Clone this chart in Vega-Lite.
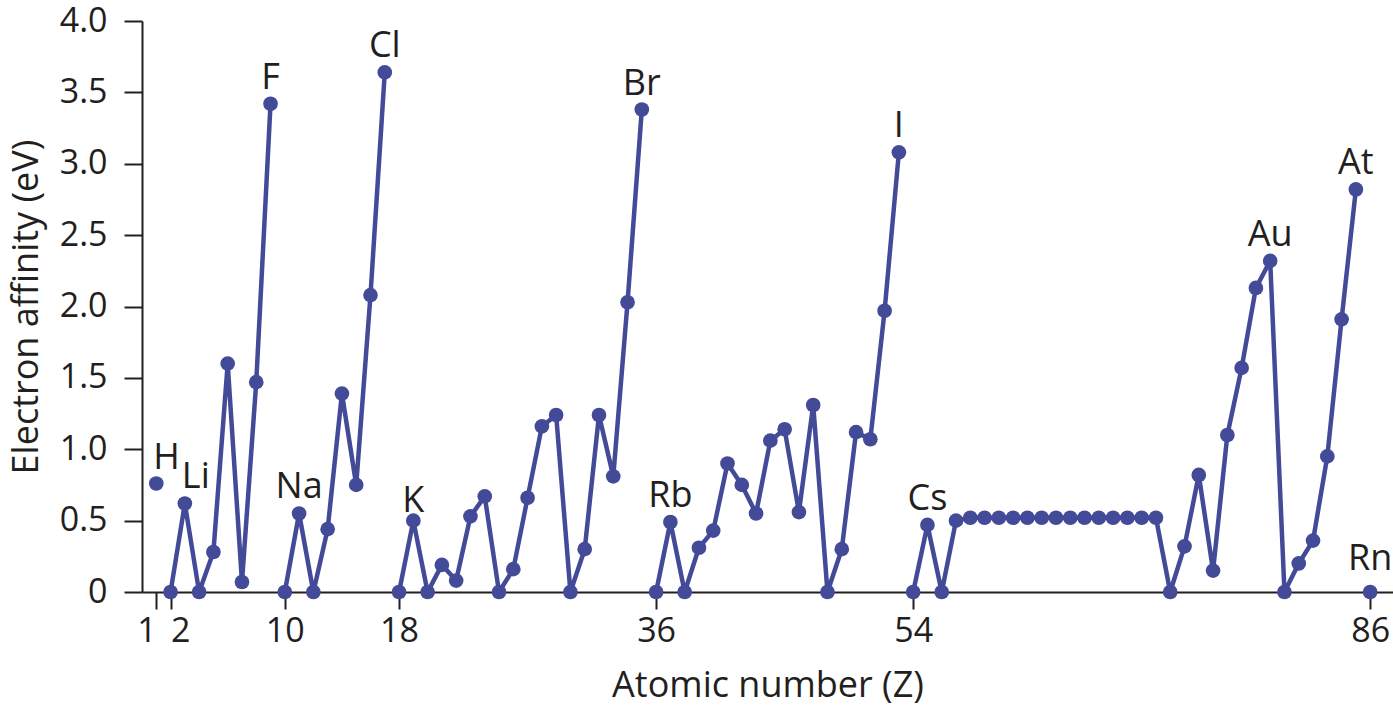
{
  "$schema": "https://vega.github.io/schema/vega-lite/v6.json",
  "width": 1251,
  "height": 571,
  "autosize": {"type": "none"},
  "padding": {"left": 142, "top": 21, "right": 0, "bottom": 120},
  "background": "white",
  "config": {"view": {"stroke": null}, "font": "Open Sans"},
  "data": {
    "values": [
      {"z": 1, "ea": 0.76, "seg": "s0", "label": "H"},
      {"z": 2, "ea": 0, "seg": "s1"},
      {"z": 3, "ea": 0.62, "seg": "s1", "label": "Li"},
      {"z": 4, "ea": 0, "seg": "s1"},
      {"z": 5, "ea": 0.28, "seg": "s1"},
      {"z": 6, "ea": 1.6, "seg": "s1"},
      {"z": 7, "ea": 0.07, "seg": "s1"},
      {"z": 8, "ea": 1.47, "seg": "s1"},
      {"z": 9, "ea": 3.42, "seg": "s1", "label": "F"},
      {"z": 10, "ea": 0, "seg": "s2"},
      {"z": 11, "ea": 0.55, "seg": "s2", "label": "Na"},
      {"z": 12, "ea": 0, "seg": "s2"},
      {"z": 13, "ea": 0.44, "seg": "s2"},
      {"z": 14, "ea": 1.39, "seg": "s2"},
      {"z": 15, "ea": 0.75, "seg": "s2"},
      {"z": 16, "ea": 2.08, "seg": "s2"},
      {"z": 17, "ea": 3.64, "seg": "s2", "label": "Cl"},
      {"z": 18, "ea": 0, "seg": "s3"},
      {"z": 19, "ea": 0.5, "seg": "s3", "label": "K"},
      {"z": 20, "ea": 0, "seg": "s3"},
      {"z": 21, "ea": 0.19, "seg": "s3"},
      {"z": 22, "ea": 0.08, "seg": "s3"},
      {"z": 23, "ea": 0.53, "seg": "s3"},
      {"z": 24, "ea": 0.67, "seg": "s3"},
      {"z": 25, "ea": 0, "seg": "s3"},
      {"z": 26, "ea": 0.16, "seg": "s3"},
      {"z": 27, "ea": 0.66, "seg": "s3"},
      {"z": 28, "ea": 1.16, "seg": "s3"},
      {"z": 29, "ea": 1.24, "seg": "s3"},
      {"z": 30, "ea": 0, "seg": "s3"},
      {"z": 31, "ea": 0.3, "seg": "s3"},
      {"z": 32, "ea": 1.24, "seg": "s3"},
      {"z": 33, "ea": 0.81, "seg": "s3"},
      {"z": 34, "ea": 2.03, "seg": "s3"},
      {"z": 35, "ea": 3.38, "seg": "s3", "label": "Br"},
      {"z": 36, "ea": 0, "seg": "s4"},
      {"z": 37, "ea": 0.49, "seg": "s4", "label": "Rb"},
      {"z": 38, "ea": 0, "seg": "s4"},
      {"z": 39, "ea": 0.31, "seg": "s4"},
      {"z": 40, "ea": 0.43, "seg": "s4"},
      {"z": 41, "ea": 0.9, "seg": "s4"},
      {"z": 42, "ea": 0.75, "seg": "s4"},
      {"z": 43, "ea": 0.55, "seg": "s4"},
      {"z": 44, "ea": 1.06, "seg": "s4"},
      {"z": 45, "ea": 1.14, "seg": "s4"},
      {"z": 46, "ea": 0.56, "seg": "s4"},
      {"z": 47, "ea": 1.31, "seg": "s4"},
      {"z": 48, "ea": 0, "seg": "s4"},
      {"z": 49, "ea": 0.3, "seg": "s4"},
      {"z": 50, "ea": 1.12, "seg": "s4"},
      {"z": 51, "ea": 1.07, "seg": "s4"},
      {"z": 52, "ea": 1.97, "seg": "s4"},
      {"z": 53, "ea": 3.08, "seg": "s4", "label": "I"},
      {"z": 54, "ea": 0, "seg": "s5"},
      {"z": 55, "ea": 0.47, "seg": "s5", "label": "Cs"},
      {"z": 56, "ea": 0, "seg": "s5"},
      {"z": 57, "ea": 0.5, "seg": "s5"},
      {"z": 58, "ea": 0.52, "seg": "s5"},
      {"z": 59, "ea": 0.52, "seg": "s5"},
      {"z": 60, "ea": 0.52, "seg": "s5"},
      {"z": 61, "ea": 0.52, "seg": "s5"},
      {"z": 62, "ea": 0.52, "seg": "s5"},
      {"z": 63, "ea": 0.52, "seg": "s5"},
      {"z": 64, "ea": 0.52, "seg": "s5"},
      {"z": 65, "ea": 0.52, "seg": "s5"},
      {"z": 66, "ea": 0.52, "seg": "s5"},
      {"z": 67, "ea": 0.52, "seg": "s5"},
      {"z": 68, "ea": 0.52, "seg": "s5"},
      {"z": 69, "ea": 0.52, "seg": "s5"},
      {"z": 70, "ea": 0.52, "seg": "s5"},
      {"z": 71, "ea": 0.52, "seg": "s5"},
      {"z": 72, "ea": 0, "seg": "s5"},
      {"z": 73, "ea": 0.32, "seg": "s5"},
      {"z": 74, "ea": 0.82, "seg": "s5"},
      {"z": 75, "ea": 0.15, "seg": "s5"},
      {"z": 76, "ea": 1.1, "seg": "s5"},
      {"z": 77, "ea": 1.57, "seg": "s5"},
      {"z": 78, "ea": 2.13, "seg": "s5"},
      {"z": 79, "ea": 2.32, "seg": "s5", "label": "Au"},
      {"z": 80, "ea": 0, "seg": "s5"},
      {"z": 81, "ea": 0.2, "seg": "s5"},
      {"z": 82, "ea": 0.36, "seg": "s5"},
      {"z": 83, "ea": 0.95, "seg": "s5"},
      {"z": 84, "ea": 1.91, "seg": "s5"},
      {"z": 85, "ea": 2.82, "seg": "s5", "label": "At"},
      {"z": 86, "ea": 0, "seg": "s6", "label": "Rn"}
    ]
  },
  "encoding": {
    "x": {
      "field": "z",
      "type": "quantitative",
      "scale": {"domain": [0, 87.6], "nice": false, "zero": false},
      "axis": {
        "values": [1, 2, 10, 18, 36, 54, 86],
        "title": "Atomic number (Z)",
        "grid": false,
        "domainColor": "#231f20",
        "domainWidth": 2,
        "tickColor": "#231f20",
        "tickWidth": 2,
        "tickSize": 17,
        "labelFont": "Open Sans",
        "labelFontSize": 34,
        "labelColor": "#231f20",
        "labelPadding": 5,
        "labelOverlap": false,
        "labelFlush": false,
        "labelBound": false,
        "labelAlign": {"expr": "datum.value == 1 ? 'right' : datum.value == 2 ? 'left' : 'center'"},
        "titleFont": "Open Sans",
        "titleFontSize": 36,
        "titleFontWeight": "normal",
        "titleColor": "#231f20",
        "titlePadding": 20
      }
    },
    "y": {
      "field": "ea",
      "type": "quantitative",
      "scale": {"domain": [0, 4], "nice": false},
      "axis": {
        "values": [0, 0.5, 1, 1.5, 2, 2.5, 3, 3.5, 4],
        "labelExpr": "datum.value == 0 ? '0' : format(datum.value, '.1f')",
        "title": "Electron affinity (eV)",
        "grid": false,
        "domainColor": "#231f20",
        "domainWidth": 2,
        "tickColor": "#231f20",
        "tickWidth": 2,
        "tickSize": 18,
        "labelFont": "Open Sans",
        "labelFontSize": 34,
        "labelColor": "#231f20",
        "labelPadding": 17,
        "labelOverlap": false,
        "labelFlush": false,
        "labelBound": false,
        "titleFont": "Open Sans",
        "titleFontSize": 36,
        "titleFontWeight": "normal",
        "titleColor": "#231f20",
        "titlePadding": 14
      }
    }
  },
  "layer": [
    {
      "mark": {"type": "line", "color": "#434a98", "strokeWidth": 4.5, "strokeJoin": "round"},
      "encoding": {"detail": {"field": "seg"}}
    },
    {
      "mark": {"type": "point", "filled": true, "size": 215, "color": "#434a98", "opacity": 1}
    },
    {
      "transform": [{"filter": "datum.label && indexof(['H','Li','K','Rn'], datum.label) < 0"}],
      "mark": {"type": "text", "fontSize": 36, "font": "Open Sans", "color": "#231f20", "align": "center", "baseline": "alphabetic", "dy": -15},
      "encoding": {"text": {"field": "label"}}
    },
    {
      "transform": [{"filter": "datum.label == 'H' || datum.label == 'Li'"}],
      "mark": {"type": "text", "fontSize": 36, "font": "Open Sans", "color": "#231f20", "align": "left", "baseline": "alphabetic", "dx": -3, "dy": -15},
      "encoding": {"text": {"field": "label"}}
    },
    {
      "transform": [{"filter": "datum.label == 'K'"}],
      "mark": {"type": "text", "fontSize": 36, "font": "Open Sans", "color": "#231f20", "align": "center", "baseline": "alphabetic", "dy": -9},
      "encoding": {"text": {"field": "label"}}
    },
    {
      "transform": [{"filter": "datum.label == 'Rn'"}],
      "mark": {"type": "text", "fontSize": 36, "font": "Open Sans", "color": "#231f20", "align": "center", "baseline": "alphabetic", "dy": -22},
      "encoding": {"text": {"field": "label"}}
    }
  ]
}
